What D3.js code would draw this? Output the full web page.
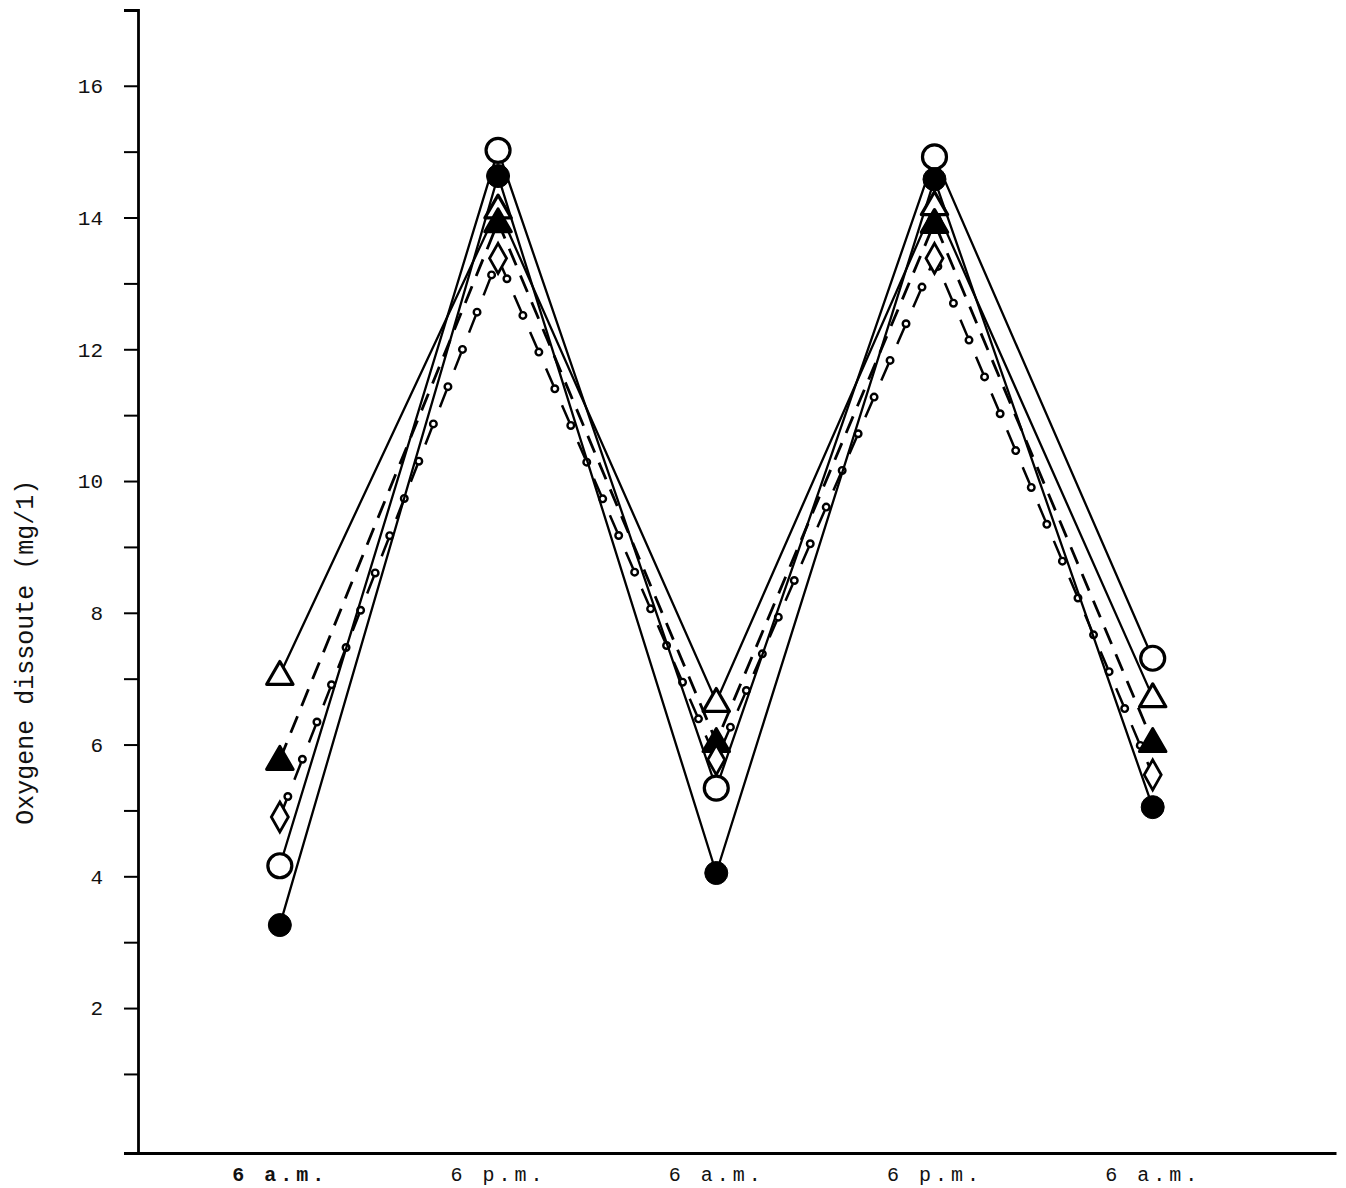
<!DOCTYPE html>
<html>
<head>
<meta charset="utf-8">
<script src="https://cdn.jsdelivr.net/npm/d3@7"></script>
<style>
  html, body { margin: 0; padding: 0; background: #fff; }
  svg { display: block; }
</style>
</head>
<body>
<svg id="chart" width="1346" height="1188"></svg>
<script>
// ---- data ----
const categories = ["6 a.m.", "6 p.m.", "6 a.m.", "6 p.m.", "6 a.m."];
const yTickValues = [1,2,3,4,5,6,7,8,9,10,11,12,13,14,15,16];
const yTickLabels = ["", "2", "", "4", "", "6", "", "8", "", "10", "", "12", "", "14", "", "16"];
const yLabel = "Oxygene dissoute (mg/1)";

const openTriangle   = [7.06, 14.14, 6.65, 14.19, 6.72];
const filledTriangle = [5.77, 13.93, 6.04, 13.92, 6.04];
const openDiamond    = [4.90, 13.38, 5.77, 13.38, 5.54];
const openCircle     = [4.16, 15.02, 5.34, 14.92, 7.31];
const filledCircle   = [3.26, 14.63, 4.05, 14.58, 5.05];

const seriesList = [
  { name: "openTriangle",   values: openTriangle,   marker: "triangle", fill: false, line: "solid" },
  { name: "filledTriangle", values: filledTriangle, marker: "triangle", fill: true,  line: "dashed" },
  { name: "openDiamond",    values: openDiamond,    marker: "diamond",  fill: false, line: "lollipop" },
  { name: "openCircle",     values: openCircle,     marker: "circle",   fill: false, line: "solid" },
  { name: "filledCircle",   values: filledCircle,   marker: "circle",   fill: true,  line: "solid" }
];

// ---- scales ----
const svg = d3.select("#chart");
const x = d3.scaleLinear().domain([-0.65, 4.84]).range([138, 1336]);
const y = d3.scaleLinear().domain([-0.2, 17.15]).range([1153, 10]);

const monoFont = "'Liberation Mono', 'DejaVu Sans Mono', monospace";

// ---- axes ----
const yAxis = d3.axisLeft(y)
  .tickValues(yTickValues)
  .tickSize(14)
  .tickPadding(21)
  .tickFormat((d, i) => yTickLabels[i]);
const gy = svg.append("g").attr("transform", `translate(${x(-0.65)},0)`).call(yAxis);
gy.select(".domain").attr("stroke", "#000").attr("stroke-width", 2.8);
gy.selectAll(".tick line").attr("stroke", "#000").attr("stroke-width", 2);
gy.selectAll(".tick text")
  .attr("font-family", monoFont)
  .attr("font-size", 21)
  .attr("fill", "#111");

const xAxis = d3.axisBottom(x)
  .tickValues(d3.range(categories.length))
  .tickSize(0)
  .tickPadding(14)
  .tickFormat(i => categories[i]);
const gx = svg.append("g").attr("transform", `translate(0,${y(-0.2)})`).call(xAxis);
gx.select(".domain").attr("stroke", "#000").attr("stroke-width", 2.8);
gx.selectAll(".tick text")
  .attr("font-family", monoFont)
  .attr("font-size", 20)
  .attr("letter-spacing", 4)
  .attr("fill", "#111")
  .attr("font-weight", (d, i) => i === 0 ? "bold" : "normal");

svg.append("text")
  .attr("transform", `translate(26,${y(7.4)}) rotate(-90)`)
  .attr("text-anchor", "middle")
  .attr("dominant-baseline", "middle")
  .attr("font-family", monoFont)
  .attr("font-size", 25)
  .attr("fill", "#111")
  .text(yLabel);

// ---- lines ----
const lineGen = d3.line().x((d, i) => x(i)).y(d => y(d));
const linesG = svg.append("g").attr("fill", "none").attr("stroke", "#000");

seriesList.forEach(s => {
  const p = linesG.append("path").attr("d", lineGen(s.values)).attr("stroke-width", 2.3);
  if (s.line === "dashed") {
    p.attr("stroke-dasharray", "18 11").attr("stroke-width", 2.8);
  } else if (s.line === "lollipop") {
    p.attr("stroke-dasharray", "18 22").attr("stroke-width", 2.5);
    // small open rings at the end of each dash (line style)
    linesG.append("path").attr("d", lineGen(s.values))
      .attr("stroke-width", 9).attr("stroke-linecap", "round")
      .attr("stroke-dasharray", "0 40").attr("stroke-dashoffset", -22);
    linesG.append("path").attr("d", lineGen(s.values))
      .attr("stroke", "#fff")
      .attr("stroke-width", 4.2).attr("stroke-linecap", "round")
      .attr("stroke-dasharray", "0 40").attr("stroke-dashoffset", -22);
  }
});

// ---- markers ----
const markersG = svg.append("g");
const triPath = d3.symbol().type(d3.symbolTriangle).size(300)();
const diamondPath = "M0,-15L8.5,0L0,15L-8.5,0Z";

seriesList.forEach(s => {
  const g = markersG.append("g");
  s.values.forEach((v, i) => {
    const cx = x(i), cy = y(v);
    if (s.marker === "circle") {
      g.append("circle").attr("cx", cx).attr("cy", cy)
        .attr("r", s.fill ? 11.5 : 12)
        .attr("fill", s.fill ? "#000" : "#fff")
        .attr("stroke", "#000").attr("stroke-width", s.fill ? 1 : 3.2);
    } else if (s.marker === "triangle") {
      g.append("path").attr("d", triPath)
        .attr("transform", `translate(${cx},${cy + 2})`)
        .attr("fill", s.fill ? "#000" : "#fff")
        .attr("stroke", "#000").attr("stroke-width", 3.2).attr("stroke-linejoin", "round");
    } else if (s.marker === "diamond") {
      g.append("path").attr("d", diamondPath)
        .attr("transform", `translate(${cx},${cy})`)
        .attr("fill", "#fff")
        .attr("stroke", "#000").attr("stroke-width", 2.8);
    }
  });
});
</script>
</body>
</html>
